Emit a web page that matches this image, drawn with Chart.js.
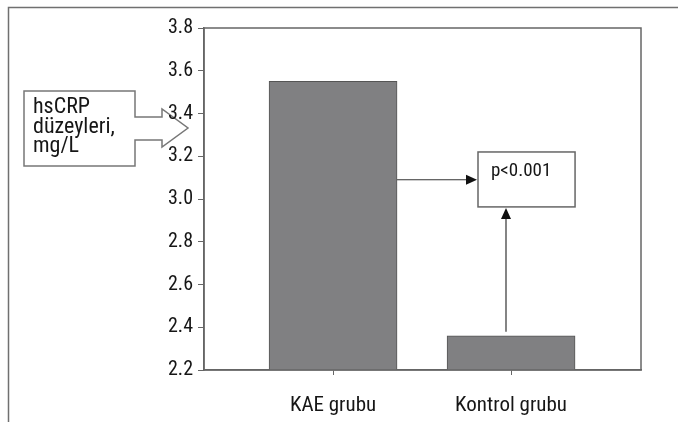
<!DOCTYPE html>
<html>
<head>
<meta charset="utf-8">
<script src="https://cdn.jsdelivr.net/npm/chart.js@4/dist/chart.umd.min.js"></script>
<style>
  html, body { margin: 0; padding: 0; background: #fff; }
  #wrap { width: 678px; height: 422px; }
</style>
</head>
<body>
<div id="wrap"><canvas id="c" width="678" height="422"></canvas></div>
<script>
// data
const categories = ['KAE grubu', 'Kontrol grubu'];
const hsCrpValues = [3.55, 2.36];
const yTicks = [2.2, 2.4, 2.6, 2.8, 3.0, 3.2, 3.4, 3.6, 3.8];
const calloutLines = ['hsCRP', 'düzeyleri,', 'mg/L'];
const pLabel = 'p<0.001';

const FONT = "'Roboto Condensed', 'DejaVu Sans Condensed', sans-serif";
const TEXT = '#161616';
const FRAME = '#707070';

function arrowHead(ctx, x, y, dir) {
  // dir: 'right' or 'up'
  ctx.beginPath();
  if (dir === 'right') {
    ctx.moveTo(x, y);
    ctx.lineTo(x - 11, y - 5);
    ctx.lineTo(x - 11, y + 5);
  } else {
    ctx.moveTo(x, y);
    ctx.lineTo(x - 5, y + 11);
    ctx.lineTo(x + 5, y + 11);
  }
  ctx.closePath();
  ctx.fill();
}

const decorations = {
  id: 'decorations',
  beforeDraw(chart) {
    const ctx = chart.ctx;
    ctx.save();
    // outer frame (top and left edges only)
    ctx.strokeStyle = FRAME;
    ctx.lineWidth = 1.5;
    ctx.beginPath();
    ctx.moveTo(8.5, 422);
    ctx.lineTo(8.5, 7.5);
    ctx.lineTo(678, 7.5);
    ctx.stroke();

    // callout box with block arrow pointing at the y axis
    ctx.fillStyle = '#fff';
    ctx.strokeStyle = '#777';
    ctx.lineWidth = 1.5;
    ctx.beginPath();
    ctx.moveTo(24, 91);
    ctx.lineTo(135, 91);
    ctx.lineTo(135, 117);
    ctx.lineTo(162, 117);
    ctx.lineTo(162, 109);
    ctx.lineTo(188, 128);
    ctx.lineTo(162, 147);
    ctx.lineTo(162, 140);
    ctx.lineTo(135, 140);
    ctx.lineTo(135, 166);
    ctx.lineTo(24, 166);
    ctx.closePath();
    ctx.fill();
    ctx.stroke();

    ctx.fillStyle = TEXT;
    ctx.font = '22px ' + FONT;
    ctx.textBaseline = 'alphabetic';
    ctx.textAlign = 'left';
    calloutLines.forEach((t, i) => ctx.fillText(t, 33, 113 + i * 19.5));
    ctx.restore();
  },
  afterDatasetsDraw(chart) {
    const ctx = chart.ctx;
    const area = chart.chartArea;
    const y = chart.scales.y;
    const bars = chart.getDatasetMeta(0).data;
    ctx.save();

    // plot area frame
    ctx.strokeStyle = '#666';
    ctx.lineWidth = 1.5;
    ctx.strokeRect(area.left, area.top, area.right - area.left, area.bottom - area.top);

    // p-value box
    const boxL = 478, boxR = bars[1].x + bars[1].width / 2;
    const boxT = y.getPixelForValue(3.22), boxB = y.getPixelForValue(2.963);
    ctx.fillStyle = '#fff';
    ctx.strokeStyle = '#666';
    ctx.lineWidth = 1.5;
    ctx.fillRect(boxL, boxT, boxR - boxL, boxB - boxT);
    ctx.strokeRect(boxL, boxT, boxR - boxL, boxB - boxT);
    ctx.fillStyle = TEXT;
    ctx.font = '19px ' + FONT;
    ctx.textBaseline = 'middle';
    ctx.textAlign = 'left';
    ctx.fillText(pLabel, boxL + 13, boxT + 19);

    // arrow from KAE bar to the box
    ctx.strokeStyle = '#333';
    ctx.fillStyle = '#111';
    ctx.lineWidth = 1.2;
    const ay = y.getPixelForValue(3.09);
    const ax0 = bars[0].x + bars[0].width / 2;
    ctx.beginPath();
    ctx.moveTo(ax0, ay);
    ctx.lineTo(boxL - 6, ay);
    ctx.stroke();
    arrowHead(ctx, boxL - 1, ay, 'right');

    // arrow from Kontrol bar up to the box
    const vx = 506;
    const vy0 = bars[1].y - 4;
    ctx.beginPath();
    ctx.moveTo(vx, vy0);
    ctx.lineTo(vx, boxB + 6);
    ctx.stroke();
    arrowHead(ctx, vx, boxB + 1, 'up');
    ctx.restore();
  }
};

new Chart(document.getElementById('c'), {
  type: 'bar',
  data: {
    datasets: [{
      data: categories.map((c, i) => ({ x: i, y: hsCrpValues[i] })),
      backgroundColor: '#808082',
      borderColor: '#555',
      borderWidth: 1,
      barThickness: 128
    }]
  },
  options: {
    responsive: false,
    animation: false,
    layout: { padding: { top: 28, right: 37, left: 0, bottom: 0 } },
    plugins: {
      legend: { display: false },
      tooltip: { enabled: false }
    },
    scales: {
      x: {
        type: 'linear',
        offset: false,
        min: -0.725,
        max: 1.73,
        afterBuildTicks: s => { s.ticks = categories.map((c, i) => ({ value: i })); },
        afterFit: s => { s.height = 52; },
        border: { display: true, color: '#666', width: 1.5 },
        grid: { offset: false, drawOnChartArea: false, tickLength: 5, color: '#666' },
        ticks: {
          autoSkip: false,
          maxRotation: 0,
          padding: 18,
          color: TEXT,
          font: { family: FONT, size: 21 },
          callback: v => categories[v] ?? ''
        }
      },
      y: {
        min: 2.2,
        max: 3.8,
        afterBuildTicks: s => { s.ticks = yTicks.map(v => ({ value: v })); },
        afterFit: s => { s.width = 204; },
        border: { display: true, color: '#666', width: 1.5 },
        grid: { drawOnChartArea: false, tickLength: 6, color: '#666' },
        ticks: {
          padding: 5,
          color: TEXT,
          font: { family: FONT, size: 20 },
          callback: v => v.toFixed(1)
        }
      }
    }
  },
  plugins: [decorations]
});
</script>
</body>
</html>
